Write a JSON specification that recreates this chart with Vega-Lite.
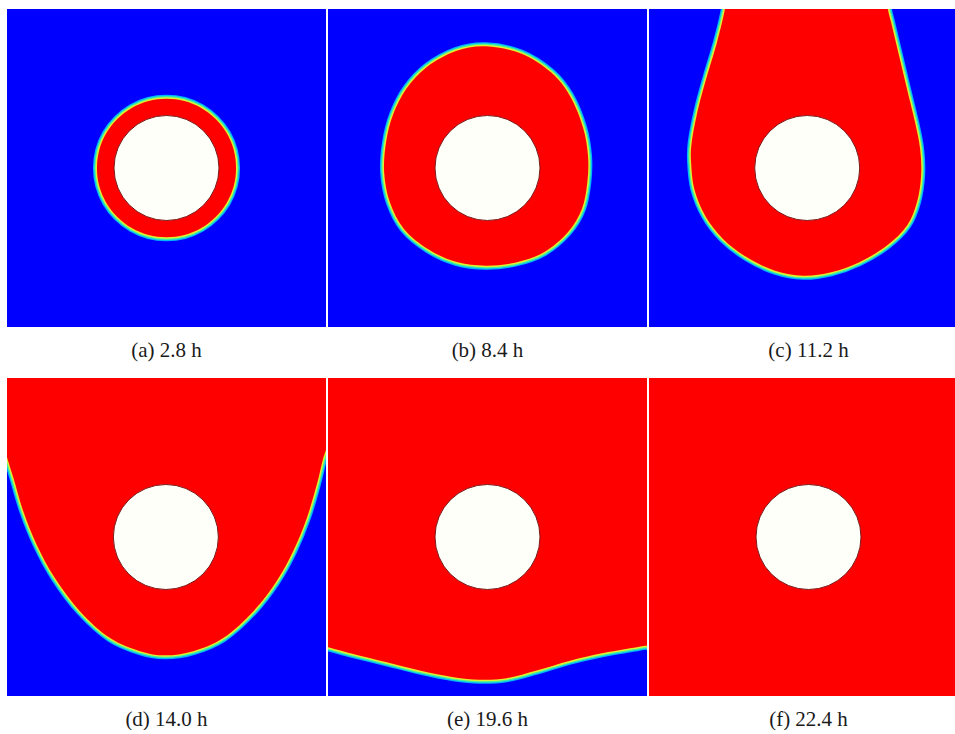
{
  "$schema": "https://vega.github.io/schema/vega-lite/v6.json",
  "background": "white",
  "padding": {"left": 7, "top": 9, "right": 0, "bottom": 0},
  "autosize": {"type": "pad"},
  "datasets": {
    "phase": [
      {"p": "(a) 2.8 h", "k": "front", "i": 0, "x": 71.8, "y": 50.0},
      {"p": "(a) 2.8 h", "k": "front", "i": 1, "x": 71.1, "y": 55.6},
      {"p": "(a) 2.8 h", "k": "front", "i": 2, "x": 68.9, "y": 60.9},
      {"p": "(a) 2.8 h", "k": "front", "i": 3, "x": 65.4, "y": 65.4},
      {"p": "(a) 2.8 h", "k": "front", "i": 4, "x": 60.9, "y": 68.9},
      {"p": "(a) 2.8 h", "k": "front", "i": 5, "x": 55.6, "y": 71.1},
      {"p": "(a) 2.8 h", "k": "front", "i": 6, "x": 50.0, "y": 71.8},
      {"p": "(a) 2.8 h", "k": "front", "i": 7, "x": 44.4, "y": 71.1},
      {"p": "(a) 2.8 h", "k": "front", "i": 8, "x": 39.1, "y": 68.9},
      {"p": "(a) 2.8 h", "k": "front", "i": 9, "x": 34.6, "y": 65.4},
      {"p": "(a) 2.8 h", "k": "front", "i": 10, "x": 31.1, "y": 60.9},
      {"p": "(a) 2.8 h", "k": "front", "i": 11, "x": 28.9, "y": 55.6},
      {"p": "(a) 2.8 h", "k": "front", "i": 12, "x": 28.2, "y": 50.0},
      {"p": "(a) 2.8 h", "k": "front", "i": 13, "x": 28.9, "y": 44.4},
      {"p": "(a) 2.8 h", "k": "front", "i": 14, "x": 31.1, "y": 39.1},
      {"p": "(a) 2.8 h", "k": "front", "i": 15, "x": 34.6, "y": 34.6},
      {"p": "(a) 2.8 h", "k": "front", "i": 16, "x": 39.1, "y": 31.1},
      {"p": "(a) 2.8 h", "k": "front", "i": 17, "x": 44.4, "y": 28.9},
      {"p": "(a) 2.8 h", "k": "front", "i": 18, "x": 50.0, "y": 28.2},
      {"p": "(a) 2.8 h", "k": "front", "i": 19, "x": 55.6, "y": 28.9},
      {"p": "(a) 2.8 h", "k": "front", "i": 20, "x": 60.9, "y": 31.1},
      {"p": "(a) 2.8 h", "k": "front", "i": 21, "x": 65.4, "y": 34.6},
      {"p": "(a) 2.8 h", "k": "front", "i": 22, "x": 68.9, "y": 39.1},
      {"p": "(a) 2.8 h", "k": "front", "i": 23, "x": 71.1, "y": 44.4},

      {"p": "(b) 8.4 h", "k": "front", "i": 0, "x": 49.5, "y": 88.3},
      {"p": "(b) 8.4 h", "k": "front", "i": 1, "x": 60.5, "y": 86.0},
      {"p": "(b) 8.4 h", "k": "front", "i": 2, "x": 70.0, "y": 80.0},
      {"p": "(b) 8.4 h", "k": "front", "i": 3, "x": 75.9, "y": 72.6},
      {"p": "(b) 8.4 h", "k": "front", "i": 4, "x": 79.9, "y": 62.9},
      {"p": "(b) 8.4 h", "k": "front", "i": 5, "x": 81.5, "y": 53.9},
      {"p": "(b) 8.4 h", "k": "front", "i": 6, "x": 81.3, "y": 45.5},
      {"p": "(b) 8.4 h", "k": "front", "i": 7, "x": 79.6, "y": 37.1},
      {"p": "(b) 8.4 h", "k": "front", "i": 8, "x": 75.2, "y": 29.8},
      {"p": "(b) 8.4 h", "k": "front", "i": 9, "x": 67.7, "y": 23.5},
      {"p": "(b) 8.4 h", "k": "front", "i": 10, "x": 58.9, "y": 20.3},
      {"p": "(b) 8.4 h", "k": "front", "i": 11, "x": 49.5, "y": 19.3},
      {"p": "(b) 8.4 h", "k": "front", "i": 12, "x": 40.1, "y": 20.5},
      {"p": "(b) 8.4 h", "k": "front", "i": 13, "x": 31.3, "y": 24.5},
      {"p": "(b) 8.4 h", "k": "front", "i": 14, "x": 23.8, "y": 30.8},
      {"p": "(b) 8.4 h", "k": "front", "i": 15, "x": 19.4, "y": 39.2},
      {"p": "(b) 8.4 h", "k": "front", "i": 16, "x": 17.6, "y": 48.6},
      {"p": "(b) 8.4 h", "k": "front", "i": 17, "x": 18.2, "y": 58.1},
      {"p": "(b) 8.4 h", "k": "front", "i": 18, "x": 20.4, "y": 66.8},
      {"p": "(b) 8.4 h", "k": "front", "i": 19, "x": 24.6, "y": 75.0},
      {"p": "(b) 8.4 h", "k": "front", "i": 20, "x": 31.0, "y": 81.8},
      {"p": "(b) 8.4 h", "k": "front", "i": 21, "x": 40.1, "y": 86.8},

      {"p": "(c) 11.2 h", "k": "front", "i": 0, "x": 24.3, "y": 106},
      {"p": "(c) 11.2 h", "k": "front", "i": 1, "x": 23.8, "y": 100},
      {"p": "(c) 11.2 h", "k": "front", "i": 2, "x": 21.3, "y": 89.5},
      {"p": "(c) 11.2 h", "k": "front", "i": 3, "x": 18.2, "y": 79.0},
      {"p": "(c) 11.2 h", "k": "front", "i": 4, "x": 15.4, "y": 68.6},
      {"p": "(c) 11.2 h", "k": "front", "i": 5, "x": 13.4, "y": 58.1},
      {"p": "(c) 11.2 h", "k": "front", "i": 6, "x": 13.2, "y": 51.8},
      {"p": "(c) 11.2 h", "k": "front", "i": 7, "x": 14.2, "y": 43.4},
      {"p": "(c) 11.2 h", "k": "front", "i": 8, "x": 17.6, "y": 35.0},
      {"p": "(c) 11.2 h", "k": "front", "i": 9, "x": 23.2, "y": 27.7},
      {"p": "(c) 11.2 h", "k": "front", "i": 10, "x": 30.7, "y": 21.9},
      {"p": "(c) 11.2 h", "k": "front", "i": 11, "x": 39.5, "y": 17.7},
      {"p": "(c) 11.2 h", "k": "front", "i": 12, "x": 48.3, "y": 16.1},
      {"p": "(c) 11.2 h", "k": "front", "i": 13, "x": 57.1, "y": 17.2},
      {"p": "(c) 11.2 h", "k": "front", "i": 14, "x": 65.8, "y": 20.3},
      {"p": "(c) 11.2 h", "k": "front", "i": 15, "x": 74.6, "y": 25.6},
      {"p": "(c) 11.2 h", "k": "front", "i": 16, "x": 80.9, "y": 31.9},
      {"p": "(c) 11.2 h", "k": "front", "i": 17, "x": 84.0, "y": 39.2},
      {"p": "(c) 11.2 h", "k": "front", "i": 18, "x": 85.3, "y": 47.6},
      {"p": "(c) 11.2 h", "k": "front", "i": 19, "x": 85.0, "y": 56.0},
      {"p": "(c) 11.2 h", "k": "front", "i": 20, "x": 83.4, "y": 64.4},
      {"p": "(c) 11.2 h", "k": "front", "i": 21, "x": 80.9, "y": 74.8},
      {"p": "(c) 11.2 h", "k": "front", "i": 22, "x": 78.4, "y": 85.3},
      {"p": "(c) 11.2 h", "k": "front", "i": 23, "x": 75.9, "y": 95.8},
      {"p": "(c) 11.2 h", "k": "front", "i": 24, "x": 74.9, "y": 100},
      {"p": "(c) 11.2 h", "k": "front", "i": 25, "x": 74.4, "y": 106},

      {"p": "(d) 14.0 h", "k": "front", "i": 0, "x": -1.5, "y": 80.5},
      {"p": "(d) 14.0 h", "k": "front", "i": 1, "x": 0.1, "y": 74.8},
      {"p": "(d) 14.0 h", "k": "front", "i": 2, "x": 2.0, "y": 68.6},
      {"p": "(d) 14.0 h", "k": "front", "i": 3, "x": 5.1, "y": 58.1},
      {"p": "(d) 14.0 h", "k": "front", "i": 4, "x": 9.3, "y": 47.6},
      {"p": "(d) 14.0 h", "k": "front", "i": 5, "x": 15.0, "y": 37.1},
      {"p": "(d) 14.0 h", "k": "front", "i": 6, "x": 22.9, "y": 26.6},
      {"p": "(d) 14.0 h", "k": "front", "i": 7, "x": 32.3, "y": 18.2},
      {"p": "(d) 14.0 h", "k": "front", "i": 8, "x": 41.7, "y": 14.1},
      {"p": "(d) 14.0 h", "k": "front", "i": 9, "x": 49.5, "y": 12.8},
      {"p": "(d) 14.0 h", "k": "front", "i": 10, "x": 58.4, "y": 14.1},
      {"p": "(d) 14.0 h", "k": "front", "i": 11, "x": 67.8, "y": 18.2},
      {"p": "(d) 14.0 h", "k": "front", "i": 12, "x": 77.2, "y": 26.6},
      {"p": "(d) 14.0 h", "k": "front", "i": 13, "x": 84.5, "y": 36.1},
      {"p": "(d) 14.0 h", "k": "front", "i": 14, "x": 89.7, "y": 45.5},
      {"p": "(d) 14.0 h", "k": "front", "i": 15, "x": 94.0, "y": 56.0},
      {"p": "(d) 14.0 h", "k": "front", "i": 16, "x": 97.1, "y": 66.4},
      {"p": "(d) 14.0 h", "k": "front", "i": 17, "x": 99.0, "y": 74.3},
      {"p": "(d) 14.0 h", "k": "front", "i": 18, "x": 101.5, "y": 84.5},
      {"p": "(d) 14.0 h", "k": "front", "i": 19, "x": 103, "y": 112},
      {"p": "(d) 14.0 h", "k": "front", "i": 20, "x": -3, "y": 112},

      {"p": "(e) 19.6 h", "k": "front", "i": 0, "x": -8, "y": 17.4},
      {"p": "(e) 19.6 h", "k": "front", "i": 1, "x": 0.1, "y": 15.3},
      {"p": "(e) 19.6 h", "k": "front", "i": 2, "x": 7.9, "y": 13.2},
      {"p": "(e) 19.6 h", "k": "front", "i": 3, "x": 18.4, "y": 10.6},
      {"p": "(e) 19.6 h", "k": "front", "i": 4, "x": 28.8, "y": 8.0},
      {"p": "(e) 19.6 h", "k": "front", "i": 5, "x": 39.3, "y": 5.9},
      {"p": "(e) 19.6 h", "k": "front", "i": 6, "x": 47.6, "y": 5.1},
      {"p": "(e) 19.6 h", "k": "front", "i": 7, "x": 56.0, "y": 5.6},
      {"p": "(e) 19.6 h", "k": "front", "i": 8, "x": 65.4, "y": 8.0},
      {"p": "(e) 19.6 h", "k": "front", "i": 9, "x": 75.9, "y": 11.1},
      {"p": "(e) 19.6 h", "k": "front", "i": 10, "x": 86.3, "y": 13.5},
      {"p": "(e) 19.6 h", "k": "front", "i": 11, "x": 99.4, "y": 15.8},
      {"p": "(e) 19.6 h", "k": "front", "i": 12, "x": 108, "y": 17.3},
      {"p": "(e) 19.6 h", "k": "front", "i": 13, "x": 108, "y": 110},
      {"p": "(e) 19.6 h", "k": "front", "i": 14, "x": -8, "y": 110},

      {"p": "(f) 22.4 h", "k": "front", "i": 0, "x": -10, "y": -10},
      {"p": "(f) 22.4 h", "k": "front", "i": 1, "x": 110, "y": -10},
      {"p": "(f) 22.4 h", "k": "front", "i": 2, "x": 110, "y": 110},
      {"p": "(f) 22.4 h", "k": "front", "i": 3, "x": -10, "y": 110},

      {"p": "(a) 2.8 h", "k": "hole", "i": 0, "x": 50, "y": 50},
      {"p": "(b) 8.4 h", "k": "hole", "i": 0, "x": 50, "y": 50},
      {"p": "(c) 11.2 h", "k": "hole", "i": 0, "x": 49.6, "y": 50},
      {"p": "(d) 14.0 h", "k": "hole", "i": 0, "x": 49.8, "y": 50},
      {"p": "(e) 19.6 h", "k": "hole", "i": 0, "x": 50, "y": 50},
      {"p": "(f) 22.4 h", "k": "hole", "i": 0, "x": 50, "y": 50}
    ]
  },
  "data": {"name": "phase"},
  "facet": {
    "field": "p",
    "type": "nominal",
    "header": {
      "title": null,
      "labelOrient": "bottom",
      "labelFont": "Liberation Serif",
      "labelFontSize": 21,
      "labelColor": "#1a1a1a",
      "labelPadding": 13
    }
  },
  "columns": 3,
  "spacing": {"column": 2, "row": 17},
  "spec": {
    "width": 319,
    "height": 318,
    "encoding": {
      "x": {"field": "x", "type": "quantitative", "scale": {"domain": [0, 100], "nice": false, "zero": false}, "axis": null},
      "y": {"field": "y", "type": "quantitative", "scale": {"domain": [0, 100], "nice": false, "zero": false}, "axis": null},
      "order": {"field": "i", "type": "quantitative"}
    },
    "layer": [
      {"transform": [{"filter": "datum.k === 'front'"}], "mark": {"type": "line", "interpolate": "cardinal-closed", "clip": true, "stroke": "#00b4ff", "strokeWidth": 8, "fill": "#ff0000"}},
      {"transform": [{"filter": "datum.k === 'front'"}], "mark": {"type": "line", "interpolate": "cardinal-closed", "clip": true, "stroke": "#40f0a0", "strokeWidth": 5.5, "fill": "#ff0000"}},
      {"transform": [{"filter": "datum.k === 'front'"}], "mark": {"type": "line", "interpolate": "cardinal-closed", "clip": true, "stroke": "#e0f030", "strokeWidth": 3, "fill": "#ff0000"}},
      {"transform": [{"filter": "datum.k === 'front'"}], "mark": {"type": "line", "interpolate": "cardinal-closed", "clip": true, "stroke": null, "strokeWidth": 0, "fill": "#ff0000"}},
      {"transform": [{"filter": "datum.k === 'hole'"}], "mark": {"type": "point", "shape": "circle", "filled": true, "fill": "#fffffa", "stroke": "#7a1818", "strokeWidth": 1, "size": 11025, "opacity": 1}}
    ]
  },
  "config": {
    "view": {"fill": "#0000ff", "stroke": null}
  }
}
